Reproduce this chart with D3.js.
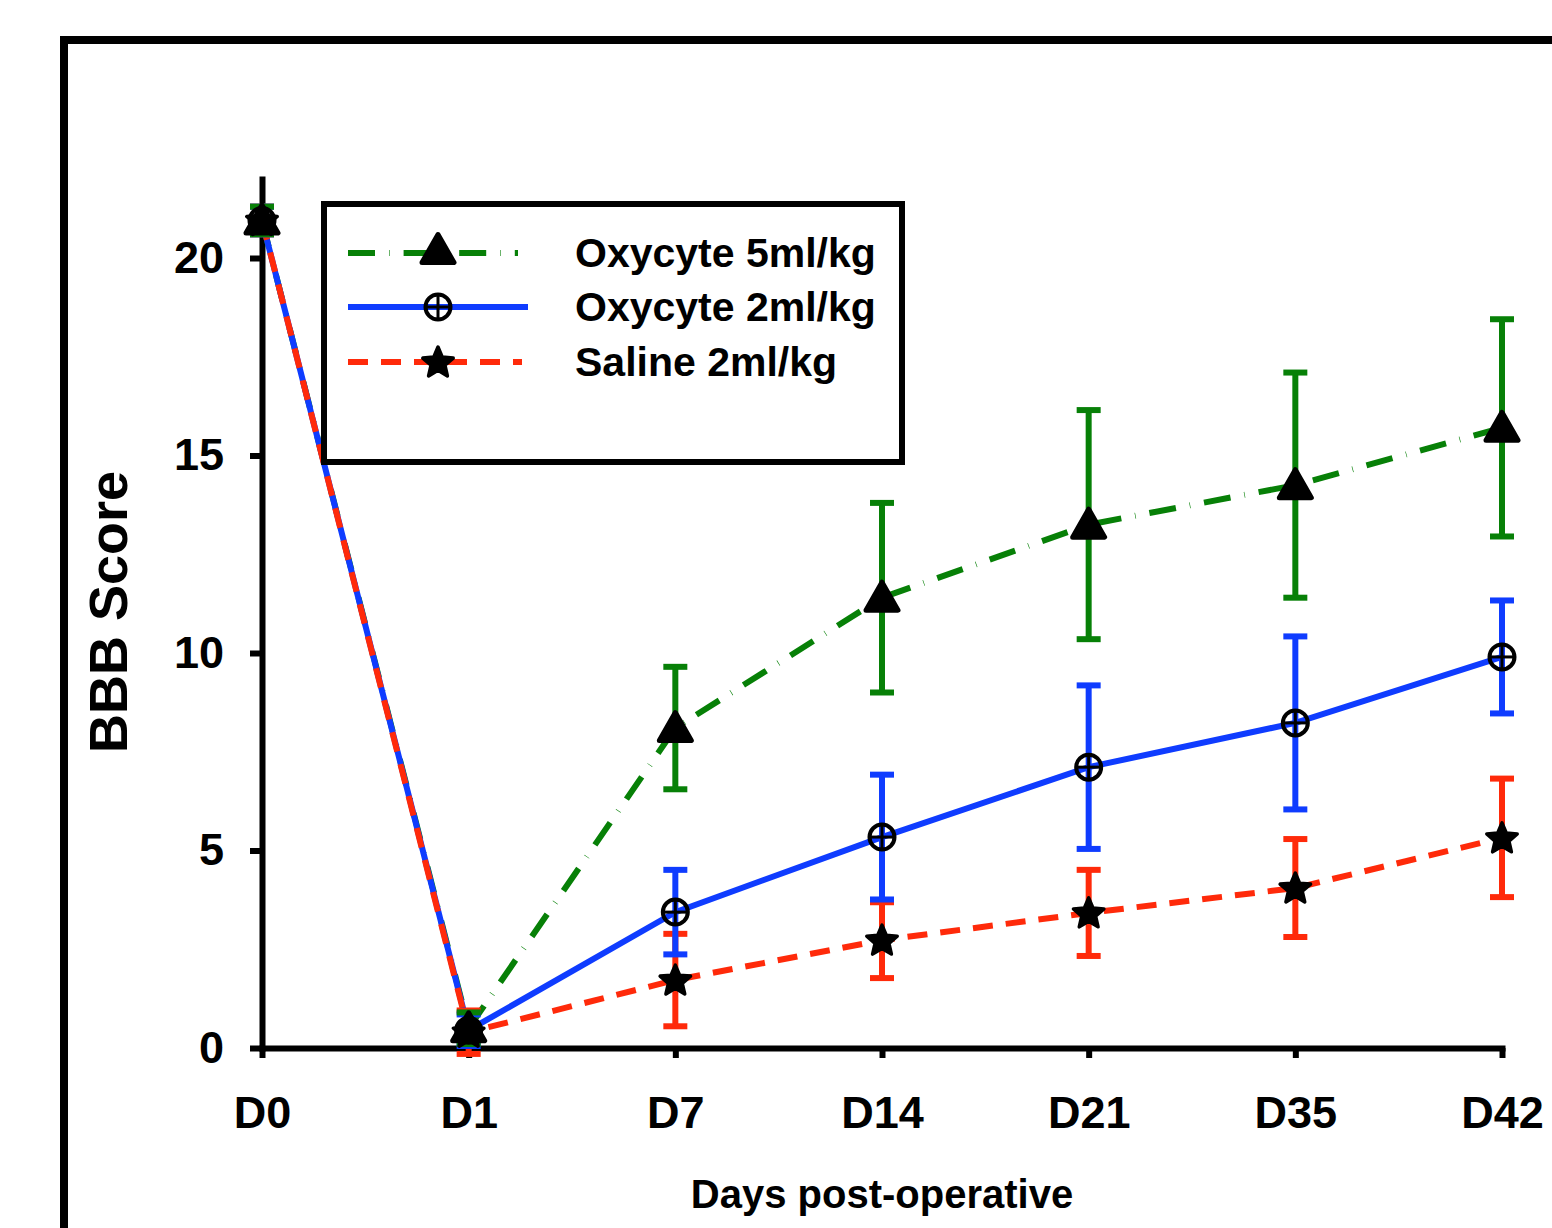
<!DOCTYPE html>
<html>
<head>
<meta charset="utf-8">
<script src="https://cdn.jsdelivr.net/npm/d3@7/dist/d3.min.js"></script>
<style>
  html, body { margin: 0; padding: 0; background: #fff; }
  svg { display: block; }
  text { font-family: "Liberation Sans", Arial, sans-serif; font-weight: bold; fill: #000; }
</style>
</head>
<body>
<svg id="chart" width="1552" height="1228"></svg>
<script>
// ---- data ----
const categories = ["D0", "D1", "D7", "D14", "D21", "D35", "D42"];
const yTicks = [0, 5, 10, 15, 20];
const seriesNames = ["Oxycyte 5ml/kg", "Oxycyte 2ml/kg", "Saline 2ml/kg"];
const oxy5Mean = [20.95, 0.5, 8.1, 11.4, 13.25, 14.25, 15.7];
const oxy5Err  = [0.35, 0.4, 1.55, 2.4, 2.9, 2.85, 2.75];
const oxy2Mean = [20.95, 0.45, 3.44, 5.34, 7.11, 8.23, 9.9];
const oxy2Err  = [0.35, 0.4, 1.07, 1.58, 2.07, 2.19, 1.43];
const salMean  = [20.95, 0.4, 1.72, 2.73, 3.42, 4.05, 5.32];
const salErr   = [0.35, 0.55, 1.17, 0.96, 1.09, 1.24, 1.5];

const svg = d3.select("#chart");

// outer frame (cropped by the picture edge)
svg.append("rect").attr("x", 64).attr("y", 40).attr("width", 1600).attr("height", 1300)
  .attr("fill", "none").attr("stroke", "#000").attr("stroke-width", 8);

const x = d3.scalePoint().domain(categories).range([262, 1502]);
const y = d3.scaleLinear().domain([0, 22]).range([1048, 179]);

const colors = { g: "#078007", b: "#0f3cff", r: "#ff2a0a" };

const series = [
  { name: seriesNames[0], mean: oxy5Mean, err: oxy5Err, color: colors.g, dash: "27,14,0.6,14", marker: "tri" },
  { name: seriesNames[1], mean: oxy2Mean, err: oxy2Err, color: colors.b, dash: null, marker: "circ" },
  { name: seriesNames[2], mean: salMean, err: salErr, color: colors.r, dash: "20,13", marker: "star" }
];

// axes
const yAxis = d3.axisLeft(y).tickValues(yTicks).tickSize(12).tickSizeOuter(0).tickPadding(26);
const xAxis = d3.axisBottom(x).tickSize(10).tickSizeOuter(0).tickPadding(38);

const gy = svg.append("g").attr("transform", `translate(${x("D0")},0)`).call(yAxis);
const gx = svg.append("g").attr("transform", `translate(0,${y(0)})`).call(xAxis);
[gx, gy].forEach(g => {
  g.select(".domain").attr("stroke", "#000").attr("stroke-width", 6).attr("stroke-linecap", "square");
  g.selectAll(".tick line").attr("stroke", "#000").attr("stroke-width", 6);
  g.selectAll(".tick text").attr("font-size", 45).attr("font-family", "Liberation Sans, Arial, sans-serif")
    .attr("font-weight", "bold").attr("fill", "#000");
});

// axis titles
svg.append("text").attr("transform", `translate(127,612) rotate(-90)`).attr("text-anchor", "middle")
  .attr("font-size", 54).text("BBB Score");
svg.append("text").attr("x", 882).attr("y", 1208).attr("text-anchor", "middle")
  .attr("font-size", 40).text("Days post-operative");

// markers
function starPath(R, r) {
  const pts = [];
  for (let i = 0; i < 10; i++) {
    const a = -Math.PI / 2 + i * Math.PI / 5;
    const rad = i % 2 === 0 ? R : r;
    pts.push([rad * Math.cos(a), rad * Math.sin(a)]);
  }
  return "M" + pts.map(p => p.join(",")).join("L") + "Z";
}
function drawMarker(g, type, cx, cy) {
  if (type === "tri") {
    g.append("path").attr("d", "M0,-15.5L16,12.5L-16,12.5Z").attr("transform", `translate(${cx},${cy})`)
      .attr("fill", "#000").attr("stroke", "#000").attr("stroke-width", 5).attr("stroke-linejoin", "round");
  } else if (type === "circ") {
    const m = g.append("g").attr("transform", `translate(${cx},${cy})`);
    m.append("circle").attr("r", 12.5).attr("fill", "none").attr("stroke", "#000").attr("stroke-width", 4);
    m.append("line").attr("x1", -12).attr("x2", 12).attr("stroke", "#000").attr("stroke-width", 3);
    m.append("line").attr("y1", -12).attr("y2", 12).attr("stroke", "#000").attr("stroke-width", 3);
  } else {
    g.append("path").attr("d", starPath(16, 7.3)).attr("transform", `translate(${cx},${cy + 1})`)
      .attr("fill", "#000").attr("stroke", "#000").attr("stroke-width", 3.5).attr("stroke-linejoin", "round");
  }
}

const line = d3.line().x((d, i) => x(categories[i])).y(d => y(d));

// lines
series.forEach(s => {
  const p = svg.append("path").datum(s.mean).attr("d", line).attr("fill", "none")
    .attr("stroke", s.color).attr("stroke-width", 6);
  if (s.dash) p.attr("stroke-dasharray", s.dash);
});

// error bars
const capW = 12;
[series[2], series[1], series[0]].forEach(s => {
  const g = svg.append("g").attr("stroke", s.color).attr("stroke-width", 6);
  s.mean.forEach((m, i) => {
    const cx = x(categories[i]);
    const top = y(m + s.err[i]), bot = y(m - s.err[i]);
    g.append("line").attr("x1", cx).attr("x2", cx).attr("y1", top).attr("y2", bot);
    g.append("line").attr("x1", cx - capW).attr("x2", cx + capW).attr("y1", top).attr("y2", top);
    g.append("line").attr("x1", cx - capW).attr("x2", cx + capW).attr("y1", bot).attr("y2", bot);
  });
});

// markers on data
series.forEach(s => {
  const g = svg.append("g");
  s.mean.forEach((m, i) => drawMarker(g, s.marker, x(categories[i]), y(m)));
});

// legend
const lg = svg.append("g");
lg.append("rect").attr("x", 324).attr("y", 204).attr("width", 578).attr("height", 258)
  .attr("fill", "#fff").attr("stroke", "#000").attr("stroke-width", 6);
const legendRows = [253, 307, 362];
const legendEnds = [518, 528, 522];
series.forEach((s, i) => {
  const ly = legendRows[i];
  const l = lg.append("line").attr("x1", 348).attr("x2", legendEnds[i]).attr("y1", ly).attr("y2", ly)
    .attr("stroke", s.color).attr("stroke-width", 6);
  if (s.dash) l.attr("stroke-dasharray", s.dash);
  drawMarker(lg, s.marker, 438, s.marker === "tri" ? ly - 3 : ly);
  lg.append("text").attr("x", 575).attr("y", ly + 14).attr("font-size", 41).text(s.name);
});
</script>
</body>
</html>
